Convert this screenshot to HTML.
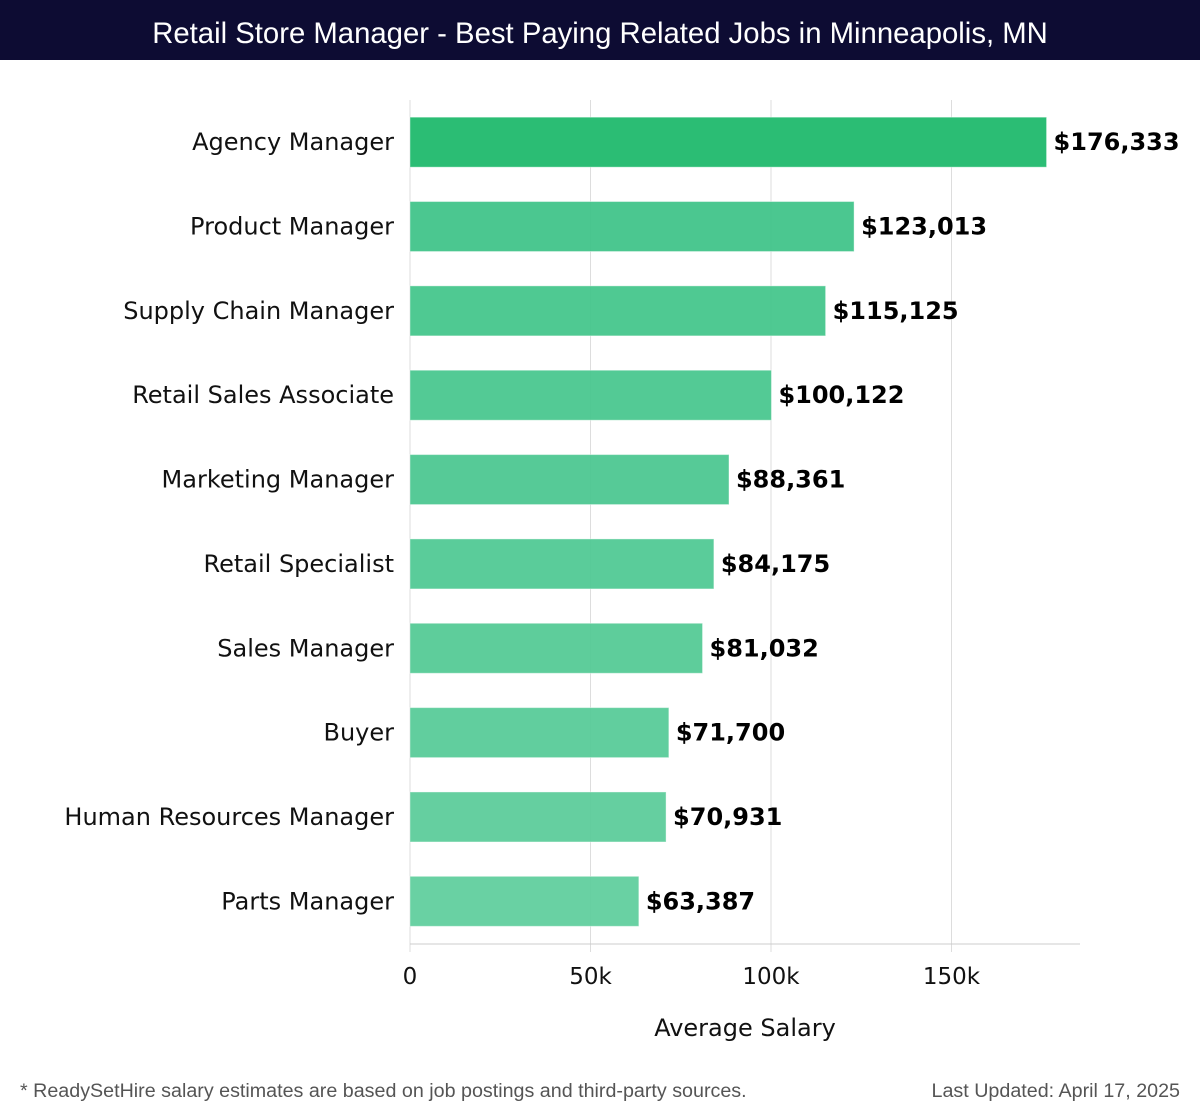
<!DOCTYPE html>
<html><head><meta charset="utf-8"><style>
body{margin:0;background:#fff;width:1200px;height:1120px;overflow:hidden;font-family:"DejaVu Sans","Liberation Sans",sans-serif}
#hdr{position:absolute;left:0;top:0;width:1200px;height:60px;background:#0d0c33;color:#fff;font-size:29.3px;text-align:center;line-height:68px;font-family:"Liberation Sans","DejaVu Sans",sans-serif}
.foot{position:absolute;top:1080px;font-size:19.7px;color:#555;font-family:"Liberation Sans","DejaVu Sans",sans-serif}
</style></head><body>
<div id="hdr">Retail Store Manager - Best Paying Related Jobs in Minneapolis, MN</div>
<svg id="chart" width="1200" height="1120" style="position:absolute;left:0;top:0"></svg>
<div class="foot" style="left:20px">* ReadySetHire salary estimates are based on job postings and third-party sources.</div>
<div class="foot" style="right:20px">Last Updated: April 17, 2025</div>
<script>
const categories=["Agency Manager","Product Manager","Supply Chain Manager","Retail Sales Associate","Marketing Manager","Retail Specialist","Sales Manager","Buyer","Human Resources Manager","Parts Manager"];
const values=[176333,123013,115125,100122,88361,84175,81032,71700,70931,63387];
const ticks=[0,50000,100000,150000];
const tickLabels=["0","50k","100k","150k"];
const NS="http://www.w3.org/2000/svg";
const svg=document.getElementById('chart');
const x0=410,pxPer=180.5/50000,top0=100,step=84.35,barH=50;
const x=v=>x0+v*pxPer;
const yc=i=>top0+step*i+step/2;
function mk(t,a){const e=document.createElementNS(NS,t);for(const k in a)e.setAttribute(k,a[k]);svg.appendChild(e);return e;}
ticks.forEach((t,i)=>{
 const g=mk('line',{x1:x(t),x2:x(t),y1:100,y2:952,stroke:'#ddd','stroke-width':1});
 
 
 const l=mk('text',{x:x(t),y:984,'text-anchor':'middle','font-size':23,fill:'#111'});
 l.textContent=tickLabels[i];
 
 
});
const ax=mk('line',{x1:x0,x2:1080,y1:944,y2:944,stroke:'#ccc','stroke-width':1});


values.forEach((v,i)=>{
 const c=i===0?'#2bbd74':`rgba(${56+i*4},${193+i*1.3},${132+i*2.5},0.92)`;
 const r=mk('rect',{x:x0,y:yc(i)-barH/2,width:x(v)-x0,height:barH,fill:c,stroke:'rgba(255,255,255,0.4)','stroke-width':1});
 
 
 const t=mk('text',{x:x(v)+7,y:yc(i)+8,'font-size':24,'font-weight':'bold',fill:'#000'});
 t.textContent='$'+v.toLocaleString('en-US');
 
 
 const c2=mk('text',{x:394,y:yc(i)+8,'text-anchor':'end','font-size':24,fill:'#111'});
 c2.textContent=categories[i];
 
 
});
const at=mk('text',{x:745,y:1036,'text-anchor':'middle','font-size':24,fill:'#111'});
at.textContent='Average Salary';


</script>
</body></html>
